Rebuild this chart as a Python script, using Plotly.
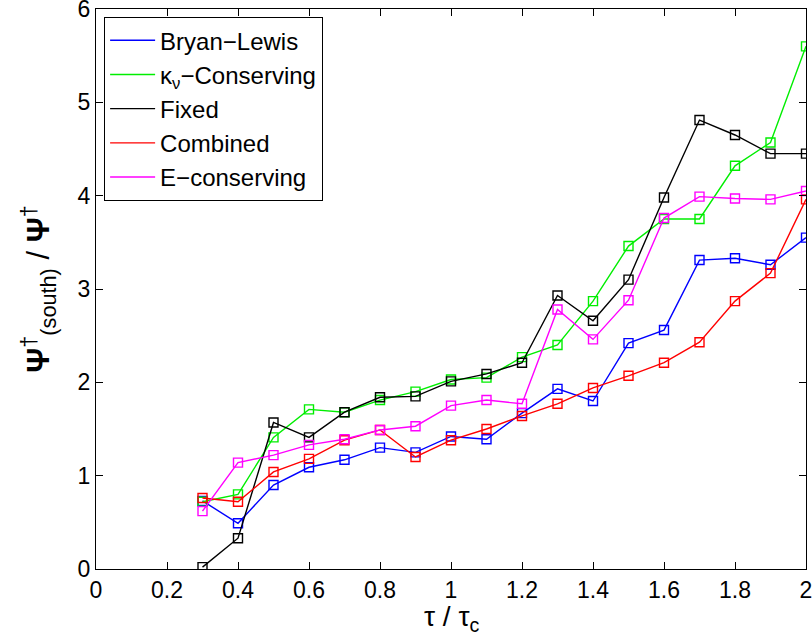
import plotly.graph_objects as go

x_vals = [0.3, 0.4, 0.5, 0.6, 0.7, 0.8, 0.9, 1.0, 1.1, 1.2, 1.3, 1.4, 1.5, 1.6, 1.7, 1.8, 1.9, 2.0]

bryan_lewis = [0.73, 0.49, 0.90, 1.09, 1.17, 1.30, 1.25, 1.42, 1.39, 1.67, 1.93, 1.80, 2.42, 2.56, 3.31, 3.33, 3.26, 3.55]
kappa_cons = [0.72, 0.80, 1.41, 1.71, 1.68, 1.81, 1.90, 2.03, 2.05, 2.27, 2.40, 2.87, 3.46, 3.75, 3.75, 4.32, 4.57, 5.60]
fixed = [0.02, 0.33, 1.57, 1.41, 1.68, 1.84, 1.85, 2.01, 2.09, 2.21, 2.93, 2.66, 3.10, 3.98, 4.81, 4.65, 4.45, 4.45]
combined = [0.76, 0.72, 1.04, 1.18, 1.38, 1.49, 1.20, 1.38, 1.50, 1.64, 1.77, 1.94, 2.07, 2.21, 2.43, 2.87, 3.17, 3.96]
e_cons = [0.62, 1.14, 1.22, 1.33, 1.39, 1.49, 1.53, 1.75, 1.81, 1.77, 2.78, 2.46, 2.88, 3.76, 3.99, 3.97, 3.96, 4.05]

names = ["Bryan\u2212Lewis", "\u03ba<sub>\u03bd</sub>\u2212Conserving", "Fixed", "Combined", "E\u2212conserving"]
series = [bryan_lewis, kappa_cons, fixed, combined, e_cons]
colors = ["#0000ff", "#00ee00", "#000000", "#ff0000", "#ff00ff"]

x_ticks = [0, 0.2, 0.4, 0.6, 0.8, 1, 1.2, 1.4, 1.6, 1.8, 2]
y_ticks = [0, 1, 2, 3, 4, 5, 6]

x_title = "\u03c4 / \u03c4<sub>c</sub>"
y_title = "<b>\u03a8</b><sup>\u2020</sup><sub>(south)</sub> / <b>\u03a8</b><sup>\u2020</sup>"

fig = go.Figure()
for i, (nm, ys, c) in enumerate(zip(names, series, colors)):
    g = f"g{i}"
    fig.add_trace(go.Scatter(x=x_vals, y=ys, mode="lines", name=nm, legendgroup=g,
                             line=dict(color=c, width=1.4), showlegend=True))
    fig.add_trace(go.Scatter(x=x_vals, y=ys, mode="markers", name=nm, legendgroup=g,
                             showlegend=False,
                             marker=dict(symbol="square-open", size=9, color=c,
                                         line=dict(color=c, width=1.4))))

axis_common = dict(showgrid=False, zeroline=False, showline=True, linecolor="black",
                   linewidth=1.3, mirror="ticks", ticks="inside", ticklen=7,
                   tickcolor="black", tickwidth=1, ticklabeloverflow="allow",
                   automargin=False,
                   tickfont=dict(family="Liberation Sans, Arial, sans-serif", size=23, color="black"))

fig.update_layout(
    width=812, height=641,
    margin=dict(l=96, r=6, t=9, b=72),
    paper_bgcolor="white", plot_bgcolor="white",
    font=dict(family="Liberation Sans, Arial, sans-serif", color="black"),
    xaxis=dict(range=[0, 2], tickvals=x_ticks, ticktext=[f"{v:g}" for v in x_ticks],
               **axis_common),
    yaxis=dict(range=[0, 6], tickvals=y_ticks,
               title=dict(text=y_title, font=dict(size=31), standoff=18),
               **axis_common),
    legend=dict(x=0.011, y=0.986, xanchor="left", yanchor="top",
                bgcolor="white", bordercolor="black", borderwidth=1.3,
                font=dict(size=24, color="black"), traceorder="grouped",
                tracegroupgap=0, itemwidth=45),
    showlegend=True,
)

fig.add_annotation(text=x_title, xref="paper", yref="paper", x=0.5, y=-0.089,
                   xanchor="center", yanchor="middle", showarrow=False,
                   font=dict(size=28, color="black"))

fig.write_html("out.html")
